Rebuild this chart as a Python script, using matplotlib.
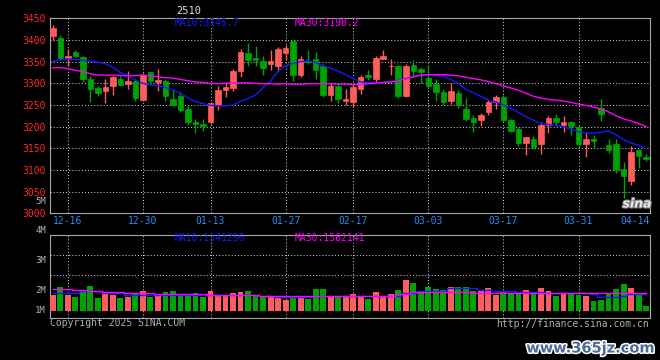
import matplotlib
matplotlib.use("Agg")
import matplotlib.pyplot as plt
import matplotlib.patheffects as pe
from matplotlib.transforms import blended_transform_factory
import numpy as np

# ---- data (contract 2510) ----
contract = "2510"
date_labels = ["12-16", "12-30", "01-13", "01-27", "02-17", "03-03", "03-17", "03-31", "04-14"]
date_index = [2, 12, 21, 31, 40, 50, 60, 70, 79]

opens = [3410, 3405, 3358, 3372, 3360, 3310, 3289, 3282, 3294, 3309,
         3299, 3305, 3262, 3325, 3303, 3305, 3264, 3271, 3241, 3210,
         3207, 3211, 3249, 3284, 3290, 3328, 3371, 3358, 3351, 3344,
         3339, 3370, 3397, 3319, 3352, 3355, 3340, 3273, 3293, 3259,
         3256, 3287, 3319, 3309, 3356, 3340, 3339, 3271, 3342, 3332,
         3312, 3298, 3281, 3259, 3278, 3241, 3221, 3216, 3233, 3258,
         3268, 3215, 3195, 3162, 3172, 3159, 3204, 3220, 3204, 3210,
         3198, 3159, 3172, 3242, 3157, 3159, 3103, 3074, 3147, 3131]
highs = [3435, 3411, 3380, 3377, 3364, 3318, 3293, 3309, 3317, 3316,
         3328, 3311, 3323, 3327, 3332, 3311, 3287, 3279, 3250, 3217,
         3217, 3258, 3294, 3303, 3334, 3379, 3392, 3385, 3364, 3376,
         3383, 3389, 3398, 3362, 3378, 3373, 3345, 3300, 3300, 3287,
         3300, 3320, 3330, 3364, 3378, 3355, 3343, 3345, 3353, 3338,
         3342, 3309, 3288, 3300, 3284, 3265, 3226, 3231, 3262, 3274,
         3273, 3218, 3200, 3177, 3179, 3210, 3224, 3229, 3224, 3212,
         3203, 3188, 3181, 3263, 3172, 3172, 3118, 3156, 3149, 3137]
lows = [3401, 3353, 3340, 3360, 3303, 3256, 3271, 3255, 3273, 3293,
        3286, 3259, 3260, 3298, 3282, 3259, 3248, 3233, 3203, 3185,
        3189, 3206, 3239, 3269, 3282, 3315, 3341, 3341, 3319, 3330,
        3328, 3353, 3305, 3315, 3344, 3310, 3269, 3259, 3254, 3250,
        3246, 3275, 3307, 3303, 3356, 3319, 3267, 3269, 3315, 3300,
        3292, 3259, 3250, 3252, 3244, 3214, 3187, 3201, 3227, 3240,
        3210, 3187, 3155, 3135, 3150, 3138, 3185, 3201, 3187, 3180,
        3154, 3131, 3151, 3213, 3139, 3092, 3036, 3065, 3104, 3121]
closes = [3428, 3358, 3362, 3362, 3309, 3286, 3278, 3291, 3314, 3297,
          3305, 3267, 3319, 3306, 3307, 3271, 3250, 3239, 3210, 3206,
          3202, 3254, 3284, 3292, 3328, 3373, 3353, 3354, 3335, 3351,
          3378, 3382, 3319, 3356, 3349, 3330, 3273, 3293, 3264, 3264,
          3292, 3314, 3314, 3358, 3362, 3341, 3271, 3339, 3329, 3325,
          3293, 3281, 3258, 3282, 3250, 3218, 3210, 3227, 3256, 3268,
          3216, 3191, 3162, 3177, 3154, 3204, 3220, 3210, 3210, 3201,
          3159, 3172, 3166, 3230, 3147, 3100, 3087, 3141, 3132, 3126]
ma10 = [3350, 3355, 3356, 3355, 3353, 3351, 3349, 3345, 3337, 3325,
        3318, 3307, 3300, 3296, 3294, 3291, 3284, 3277, 3266, 3258,
        3253, 3249, 3248, 3248, 3250, 3259, 3265, 3273, 3290, 3305,
        3328, 3341, 3346, 3350, 3352, 3348, 3340, 3335, 3328, 3320,
        3311, 3303, 3302, 3301, 3302, 3304, 3307, 3311, 3315, 3319,
        3319, 3319, 3316, 3309, 3300, 3286, 3278, 3270, 3261, 3257,
        3250, 3242, 3233, 3223, 3215, 3207, 3205, 3203, 3199, 3195,
        3188, 3185, 3185, 3187, 3190, 3181, 3170, 3162, 3157, 3148]
ma30 = [3336, 3336, 3334, 3330, 3327, 3322, 3319, 3319, 3319, 3318,
        3317, 3318, 3319, 3317, 3315, 3313, 3312, 3309, 3306, 3303,
        3302, 3300, 3299, 3300, 3301, 3301, 3301, 3300, 3299, 3299,
        3298, 3299, 3298, 3297, 3299, 3299, 3299, 3299, 3298, 3298,
        3297, 3297, 3299, 3300, 3302, 3303, 3306, 3310, 3315, 3319,
        3320, 3320, 3320, 3319, 3317, 3314, 3311, 3308, 3304, 3299,
        3294, 3289, 3284, 3277, 3270, 3266, 3263, 3261, 3259, 3256,
        3252, 3249, 3245, 3241, 3234, 3225, 3218, 3213, 3207, 3200]

# volume in millions
volume = [1.44, 2.21, 1.44, 1.26, 1.75, 2.30, 1.20, 1.54, 1.44, 1.20,
          1.29, 1.59, 1.81, 1.26, 1.54, 1.72, 1.81, 1.38, 1.38, 1.63,
          1.26, 1.81, 1.38, 1.38, 1.63, 1.72, 1.81, 1.38, 1.38, 1.38,
          1.38, 0.98, 1.17, 1.17, 1.08, 2.00, 2.00, 1.29, 1.29, 1.38,
          1.54, 1.29, 1.08, 1.72, 1.29, 1.54, 1.90, 2.82, 2.55, 1.81,
          2.14, 2.00, 1.90, 2.21, 2.21, 2.21, 1.81, 1.81, 2.09, 1.44,
          1.81, 1.54, 1.54, 1.90, 1.54, 2.09, 1.81, 1.38, 1.63, 1.54,
          1.44, 1.35, 0.89, 0.98, 1.54, 2.00, 2.46, 2.09, 1.44, 0.43]
vol_ma10 = [1.59, 1.66, 1.66, 1.66, 1.78, 1.78, 1.78, 1.63, 1.63, 1.63,
            1.41, 1.41, 1.41, 1.41, 1.41, 1.44, 1.44, 1.44, 1.44, 1.44,
            1.44, 1.44, 1.44, 1.44, 1.44, 1.44, 1.44, 1.44, 1.35, 1.35,
            1.22, 1.22, 1.22, 1.22, 1.22, 1.32, 1.32, 1.35, 1.35, 1.35,
            1.35, 1.35, 1.35, 1.35, 1.35, 1.35, 1.35, 1.66, 1.66, 1.78,
            1.78, 1.78, 1.78, 2.05, 2.05, 2.05, 2.05, 1.90, 1.90, 1.81,
            1.81, 1.81, 1.75, 1.75, 1.75, 1.75, 1.66, 1.66, 1.66, 1.66,
            1.66, 1.66, 1.54, 1.29, 1.29, 1.29, 1.35, 1.54, 1.54, 1.54]
vol_ma30 = [2.02, 2.02, 2.02, 1.87, 1.87, 1.78, 1.78, 1.68, 1.68, 1.68,
            1.59, 1.59, 1.59, 1.59, 1.50, 1.50, 1.50, 1.50, 1.50, 1.50,
            1.50, 1.47, 1.47, 1.47, 1.47, 1.47, 1.47, 1.47, 1.38, 1.38,
            1.38, 1.38, 1.38, 1.38, 1.38, 1.38, 1.38, 1.38, 1.38, 1.38,
            1.38, 1.38, 1.38, 1.38, 1.38, 1.38, 1.54, 1.54, 1.70, 1.70,
            1.70, 1.70, 1.70, 1.70, 1.70, 1.70, 1.64, 1.64, 1.64, 1.64,
            1.64, 1.64, 1.64, 1.64, 1.64, 1.64, 1.64, 1.64, 1.64, 1.64,
            1.64, 1.64, 1.64, 1.64, 1.64, 1.64, 1.64, 1.64, 1.64, 1.64]

price_ticks = [3000, 3050, 3100, 3150, 3200, 3250, 3300, 3350, 3400, 3450]
vol_grid = [3.26, 5.10]
vol_labels = ["1M", "2M", "3M", "4M", "5M"]
vol_label_pos = [0.0, 1.84, 4.64, 7.40, 10.0]
price_ma_text = ["MA10:3145.7", "MA30:3198.2"]
vol_ma_text = ["MA10:1341256", "MA30:1562141"]

# ---- style ----
W, H = 660, 360
BG = "black"
UP = "#ff5c5c"
DOWN = "#00a400"
BLUE = "#1818ff"
MAGENTA = "#ff00ff"
FRAME = "#a8a8a8"
GRID = "#c8c8c8"
GRAY = "#b0b0b0"
MONO = "DejaVu Sans Mono"


def fx(x):
    return x / W


def fy(y):
    return 1 - y / H


def style_axes(ax):
    ax.set_facecolor(BG)
    for s in ax.spines.values():
        s.set_color(FRAME)
        s.set_linewidth(0.8)
    ax.tick_params(length=0)
    ax.set_xticks([])


fig = plt.figure(figsize=(W / 100, H / 100), dpi=100, facecolor=BG)
ax = fig.add_axes([fx(50), fy(213.3), fx(599.5), 195 / H])
axv = fig.add_axes([fx(50), fy(318.3), fx(599.5), 83.6 / H])
for a in (ax, axv):
    style_axes(a)
    a.set_xlim(-0.37, 79.45)

x = np.arange(len(closes))
o = np.array(opens)
c = np.array(closes)
up = c >= o
colors = np.where(up, UP, DOWN)

# grid
for i in date_index[:-1]:
    for a in (ax, axv):
        a.axvline(i, color=GRID, lw=0.75, ls=(0, (1, 2)), zorder=1)
for p in price_ticks[1:-1]:
    ax.axhline(p, color=GRID, lw=0.75, ls=(0, (1, 2)), zorder=1)
for v in vol_grid:
    axv.axhline(v, color=GRID, lw=0.75, ls=(0, (1, 2)), zorder=1)

# candles
ax.vlines(x, lows, highs, colors=colors, lw=1, zorder=3)
body = np.maximum(np.abs(c - o), 1.0)
ax.bar(x, body, bottom=np.minimum(o, c), width=0.74, color=colors,
       edgecolor=colors, linewidth=0.5, zorder=4)
ax.plot(x, ma10, color=BLUE, lw=1, zorder=5)
ax.plot(x, ma30, color=MAGENTA, lw=1, zorder=5)
ax.set_ylim(3000, 3450)
ax.set_yticks(price_ticks)
ax.set_yticklabels([str(p) for p in price_ticks], color="#ff2a2a",
                   fontsize=7, family=MONO)
ax.tick_params(axis="y", pad=3)

# volume
axv.bar(x, volume, width=0.78, color=colors, linewidth=0, zorder=3)
axv.plot(x, vol_ma10, color=BLUE, lw=1, drawstyle="steps-mid", zorder=5)
axv.plot(x, vol_ma30, color=MAGENTA, lw=1, drawstyle="steps-mid", zorder=5)
axv.set_ylim(-0.70, 6.99)
axv.set_yticks([])
tr = blended_transform_factory(axv.transAxes, axv.transData)
for lab, pos in zip(vol_labels, vol_label_pos):
    axv.text(-4 / 599.5, pos, lab, transform=tr, ha="right", va="center",
             color=GRAY, fontsize=6.5, family=MONO, clip_on=False)

# date labels
trd = blended_transform_factory(ax.transData, fig.transFigure)
for i, lab in zip(date_index[:-1], date_labels[:-1]):
    fig.text(i, fy(220.7), lab, transform=trd, ha="center", va="center",
             color="#2a8cf0", fontsize=7, family=MONO)
ax.text(1.0, fy(220.7), date_labels[-1],
        transform=blended_transform_factory(ax.transAxes, fig.transFigure),
        ha="right", va="center", color="#2a8cf0", fontsize=7, family=MONO)

# titles and MA legends
fig.text(fx(189), fy(10.5), contract, ha="center", va="center",
         color="#dcdcdc", fontsize=7.5, family=MONO)
fig.text(fx(175), fy(23.5), price_ma_text[0], ha="left", va="center",
         color=BLUE, fontsize=7, family=MONO)
fig.text(fx(295), fy(23.5), price_ma_text[1], ha="left", va="center",
         color=MAGENTA, fontsize=7, family=MONO)
fig.text(fx(175), fy(238.3), vol_ma_text[0], ha="left", va="center",
         color=BLUE, fontsize=7, family=MONO)
fig.text(fx(295), fy(238.3), vol_ma_text[1], ha="left", va="center",
         color=MAGENTA, fontsize=7, family=MONO)

# footer
fig.text(fx(50), fy(323.5), "Copyright 2025 SINA.COM", ha="left", va="center",
         color=GRAY, fontsize=7, family=MONO)
fig.text(fx(649), fy(324), "http://finance.sina.com.cn", ha="right", va="center",
         color=GRAY, fontsize=7, family=MONO)

# watermarks
fig.text(fx(637), fy(204), "sina", ha="center", va="center", color="#e6e6e6",
         fontsize=9, fontweight="bold", fontstyle="italic",
         path_effects=[pe.withStroke(linewidth=1.5, foreground="#808080")])
fig.text(fx(655), fy(348), "www.365jz.com", ha="right", va="center",
         color="#4a6a9a", fontsize=10.5, fontweight="bold",
         path_effects=[pe.withStroke(linewidth=2.2, foreground="white")])

fig.savefig("out.png", dpi=100, facecolor=BG)
